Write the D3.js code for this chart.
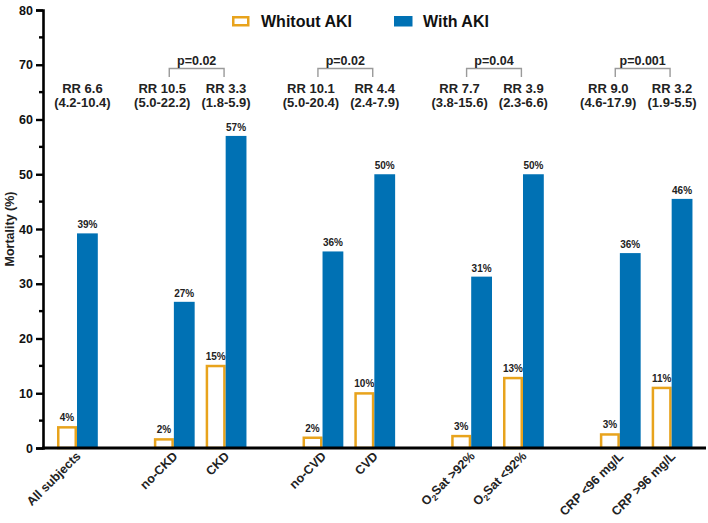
<!DOCTYPE html>
<html><head><meta charset="utf-8">
<script src="https://cdn.jsdelivr.net/npm/d3@7"></script>
<style>
body{margin:0;background:#fff;}
text{font-family:"Liberation Sans",Arial,sans-serif;font-weight:bold;}
</style></head>
<body><svg id="c" width="708" height="523"></svg>
<script>
const categories = ["All subjects","no-CKD","CKD","no-CVD","CVD","O2Sat >92%","O2Sat <92%","CRP <96 mg/L","CRP >96 mg/L"];
const groups = ["All","CKD","CKD","CVD","CVD","O2","O2","CRP","CRP"];
const withoutAKI = [4.0,1.8,15.2,2.1,10.2,2.4,13.0,2.7,11.2];
const withAKI = [39.2,26.7,57.0,35.9,50.0,31.3,50.0,35.6,45.5];
const labelsWithout = ["4%","2%","15%","2%","10%","3%","13%","3%","11%"];
const labelsWith = ["39%","27%","57%","36%","50%","31%","50%","36%","46%"];
const rrValues = ["RR 6.6","RR 10.5","RR 3.3","RR 10.1","RR 4.4","RR 7.7","RR 3.9","RR 9.0","RR 3.2"];
const rrCI = ["(4.2-10.4)","(5.0-22.2)","(1.8-5.9)","(5.0-20.4)","(2.4-7.9)","(3.8-15.6)","(2.3-6.6)","(4.6-17.9)","(1.9-5.5)"];
const pGroups = ["CKD","CVD","O2","CRP"];
const pValues = ["p=0.02","p=0.02","p=0.04","p=0.001"];
const yTicks = [0,10,20,30,40,50,60,70,80];
const seriesNames = ["Whitout AKI","With AKI"];

const ORANGE = "#E8A31C", BLUE = "#0071B4", TXT = "#222";
const svg = d3.select("#c");

// slot positions: consecutive items 1 unit apart, extra gap between groups
const slots = [];
let s = 0;
groups.forEach((g,i)=>{ if(i>0){ s += 1; if(g!==groups[i-1]) s += 0.87; } slots.push(s); });

const x = d3.scaleLinear().domain([0,1]).range([57,108.8]);
const y = d3.scaleLinear().domain([0,80]).range([448,10]);
const unit = x(1)-x(0);
const oW = 20/unit, bW = 20.8/unit, pairW = oW + bW;

// axes
const yAxis = d3.axisLeft(y).tickValues(yTicks).tickSize(7).tickPadding(3).tickFormat(d3.format("d"));
const gy = svg.append("g").attr("transform","translate(43,0)").call(yAxis);
gy.select(".domain").attr("stroke","#000").attr("stroke-width",2.6);
gy.selectAll(".tick line").attr("stroke","#000").attr("stroke-width",2.4);
gy.selectAll(".tick text").attr("font-size",12.5).attr("fill","#111").attr("font-family","Liberation Sans, Arial, sans-serif").attr("font-weight","bold");
const minor = d3.range(5,80,10);
svg.append("g").selectAll("line").data(minor).join("line")
  .attr("x1",39).attr("x2",43).attr("y1",d=>y(d)).attr("y2",d=>y(d))
  .attr("stroke","#000").attr("stroke-width",2.4);

svg.append("text").attr("transform",`translate(14,${(y(0)+y(80))/2}) rotate(-90)`)
  .attr("text-anchor","middle").attr("font-size",12.5).attr("fill",TXT).text("Mortality (%)");

// bars
const gb = svg.append("g");
gb.selectAll("rect.o").data(withoutAKI).join("rect").attr("class","o")
  .attr("x",(d,i)=>x(slots[i])+1.25).attr("width",x(oW)-x(0)-2.5)
  .attr("y",d=>y(d)+1.25).attr("height",d=>y(0)-y(d)-1.25)
  .attr("fill","#fff").attr("stroke",ORANGE).attr("stroke-width",2.5);
gb.selectAll("rect.b").data(withAKI).join("rect").attr("class","b")
  .attr("x",(d,i)=>x(slots[i]+oW)).attr("width",x(bW)-x(0))
  .attr("y",d=>y(d)).attr("height",d=>y(0)-y(d)).attr("fill",BLUE);

// x axis line
svg.append("line").attr("x1",42).attr("x2",706).attr("y1",y(0)).attr("y2",y(0)).attr("stroke","#000").attr("stroke-width",2.8);

// value labels
svg.append("g").selectAll("text").data(withoutAKI).join("text")
  .attr("x",(d,i)=>x(slots[i]+oW/2)).attr("y",d=>y(d)-5)
  .attr("text-anchor","middle").attr("font-size",10).attr("fill",TXT).text((d,i)=>labelsWithout[i]);
svg.append("g").selectAll("text").data(withAKI).join("text")
  .attr("x",(d,i)=>x(slots[i]+oW+bW/2)).attr("y",d=>y(d)-5)
  .attr("text-anchor","middle").attr("font-size",10).attr("fill",TXT).text((d,i)=>labelsWith[i]);

// RR labels
function rrX(i){
  const c = x(slots[i]+pairW/2);
  const g = groups[i];
  const cnt = groups.filter(v=>v===g).length;
  if(cnt===1) return c+5;
  return groups.indexOf(g)===i ? c-12 : c;
}
const rr = svg.append("g");
rr.selectAll("text.rr").data(rrValues).join("text").attr("class","rr")
  .attr("x",(d,i)=>rrX(i)).attr("y",93).attr("text-anchor","middle").attr("font-size",13).attr("fill",TXT).text(d=>d);
rr.selectAll("text.ci").data(rrCI).join("text").attr("class","ci")
  .attr("x",(d,i)=>rrX(i)).attr("y",107).attr("text-anchor","middle").attr("font-size",13).attr("fill",TXT).text(d=>d);

// p-value brackets
pGroups.forEach((g,k)=>{
  const i0 = groups.indexOf(g), i1 = groups.lastIndexOf(g);
  const xl = rrX(i0)+7, xr = x(slots[i1]+pairW/2)-2;
  svg.append("path").attr("d",`M${xl},77V68.5H${xr}V77`).attr("fill","none").attr("stroke","#9a9a9a").attr("stroke-width",1.4);
  svg.append("text").attr("x",(xl+xr)/2).attr("y",65).attr("text-anchor","middle").attr("font-size",12.5).attr("fill",TXT).text(pValues[k]);
});

// x labels
const xl = svg.append("g");
categories.forEach((c,i)=>{
  const cx = x(slots[i]+pairW/2)+4;
  const t = xl.append("text").attr("transform",`translate(${cx},457) rotate(-45)`)
    .attr("text-anchor","end").attr("font-size",12.5).attr("fill",TXT);
  if(c.startsWith("O2")){
    t.append("tspan").text("O");
    t.append("tspan").attr("font-size",8.5).attr("dy",3).text("2");
    t.append("tspan").attr("dy",-3).text(c.slice(2));
  } else t.text(c);
});

// legend
const lg = svg.append("g");
lg.append("rect").attr("x",233.25).attr("y",17.25).attr("width",15).attr("height",8).attr("fill","#fff").attr("stroke",ORANGE).attr("stroke-width",2.5);
lg.append("text").attr("x",261).attr("y",27).attr("font-size",16).attr("fill","#111").text(seriesNames[0]);
lg.append("rect").attr("x",394).attr("y",16).attr("width",18.5).attr("height",10.5).attr("fill",BLUE);
lg.append("text").attr("x",423).attr("y",27).attr("font-size",16).attr("fill","#111").text(seriesNames[1]);
</script></body></html>
